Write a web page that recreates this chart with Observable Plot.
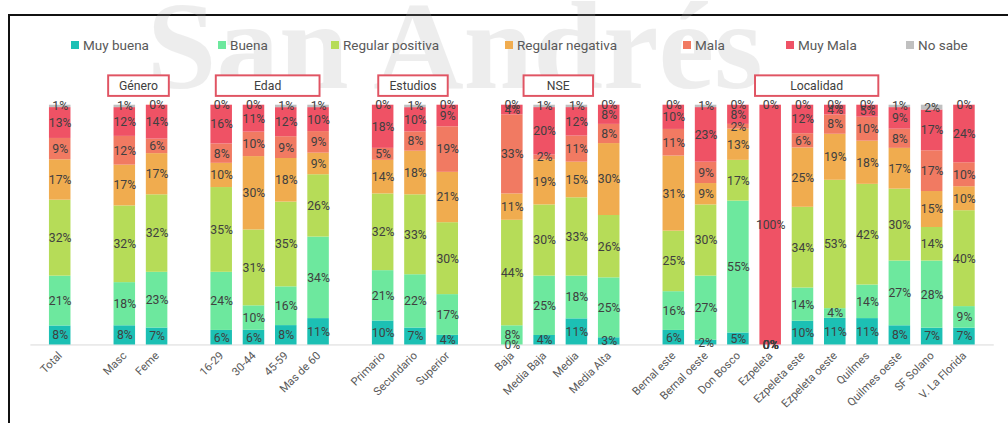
<!DOCTYPE html>
<html><head><meta charset="utf-8">
<script src="https://cdn.jsdelivr.net/npm/d3@7"></script>
<script src="https://cdn.jsdelivr.net/npm/@observablehq/plot@0.6"></script>
<style>
html,body{margin:0;padding:0;background:#fff;overflow:hidden;width:1008px;height:423px;}
#wrap{position:relative;width:1008px;height:423px;overflow:hidden;font-family:Roboto,"Open Sans",sans-serif;}
#frame{position:absolute;left:8px;top:14px;width:1010px;height:420px;border-top:2px solid #111;border-left:2px solid #111;box-sizing:border-box;}
.leg{position:absolute;top:36px;height:18px;font-size:13.5px;color:#595959;white-space:nowrap;display:flex;align-items:center;}
.leg i{display:inline-block;width:8px;height:8px;margin-right:4px;}
#chart{position:absolute;left:0;top:0;}
</style></head>
<body><div id="wrap"><div id="frame"></div><div id="chart"></div></div>
<script>
// ---- data ----
const categories = ["Total","Masc","Feme","16-29","30-44","45-59","Mas de 60","Primario","Secundario","Superior","Baja","Media Baja","Media","Media Alta","Bernal este","Bernal oeste","Don Bosco","Ezpeleta","Ezpeleta este","Ezpeleta oeste","Quilmes","Quilmes oeste","SF Solano","V. La Florida"];
const series = ["Muy buena","Buena","Regular positiva","Regular negativa","Mala","Muy Mala","No sabe"];
const muyBuena = [8,8,7,6,6,8,11,10,7,4,0,4,11,3,6,2,5,0,10,11,11,8,7,7];
const buena    = [21,18,23,24,10,16,34,21,22,17,8,25,18,25,16,27,55,0,14,4,14,27,28,9];
const regPos   = [32,32,32,35,31,35,26,32,33,30,44,30,33,26,25,30,17,0,34,53,42,30,14,40];
const regNeg   = [17,17,17,10,30,18,9,14,18,21,11,19,15,30,31,9,13,0,25,19,18,17,15,10];
const mala     = [9,12,6,8,10,9,9,5,8,19,33,2,11,8,11,9,2,0,6,8,10,8,17,10];
const muyMala  = [13,12,14,16,11,12,10,18,10,9,4,20,12,8,10,23,8,100,12,4,5,9,17,24];
const noSabe   = [1,1,0,0,0,1,1,0,1,0,0,1,1,0,0,1,0,0,0,0,0,1,2,0];
const groupLabels = [null,"Género","Edad","Estudios","NSE","Localidad"];
const groupMembers = [["Total"],["Masc","Feme"],["16-29","30-44","45-59","Mas de 60"],["Primario","Secundario","Superior"],["Baja","Media Baja","Media","Media Alta"],["Bernal este","Bernal oeste","Don Bosco","Ezpeleta","Ezpeleta este","Ezpeleta oeste","Quilmes","Quilmes oeste","SF Solano","V. La Florida"]];

// ---- styling ----
const colors = ["#1cc0b4","#6de89e","#b6dc58","#f0ac4f","#f17a62","#ef5265","#c0c0c0"];
const legendLeft = [71,218,331,505,683,786,906];
const boxWidths = [0,62,106,71,71,126];
const font = 'Roboto,"Open Sans",sans-serif';

const values = [muyBuena,buena,regPos,regNeg,mala,muyMala,noSabe];
const rows = categories.flatMap((c,i)=>series.map((s,j)=>({cat:c, serie:s, value:values[j][i]})));
const domain = [];
groupMembers.forEach((g,i)=>{ if(i>0) domain.push("gap"+i); domain.push(...g); });

// legend
const wrap = document.getElementById("wrap");
series.forEach((s,i)=>{
  const d = document.createElement("div");
  d.className="leg"; d.style.left=legendLeft[i]+"px";
  d.innerHTML = `<i style="background:${colors[i]}"></i>${s}`;
  wrap.appendChild(d);
});

const stackOpts = {x:"cat", y:"value", z:"serie", order:series, offset:"normalize"};
const plot = Plot.plot({
  width:1030, height:423,
  marginTop:107, marginBottom:71, marginLeft:31, marginRight:14.5,
  style:{fontFamily:font, background:"transparent", overflow:"visible"},
  x:{domain, paddingInner:0.32, paddingOuter:0.16, label:null},
  y:{domain:[0,1], axis:null},
  color:{domain:series, range:colors},
  marks:[
    Plot.ruleY([0],{stroke:"#d9d9d9", strokeWidth:1}),
    Plot.barY(rows, Plot.stackY({...stackOpts, fill:"serie"})),
    Plot.text(rows, Plot.stackY({...stackOpts, text:d=>d.value+"%", fill:"#404040", fontSize:12.5})),
    Plot.axisX({ticks:categories, tickRotate:-45, tickSize:0, tickPadding:9, fontSize:11.5, fill:"#595959", label:null})
  ]
});
document.getElementById("chart").appendChild(plot);

const svg = d3.select(plot);
// watermark
svg.insert("text", ":first-child").attr("x",150).attr("y",90).attr("text-anchor","start")
  .attr("font-family","Liberation Serif, DejaVu Serif, serif").attr("font-size",128).attr("font-weight","bold")
  .attr("fill","#aaa").attr("opacity",0.2).style("pointer-events","none")
  .text("San Andrés");
// group boxes
const xs = plot.scale("x");
groupLabels.forEach((lab,i)=>{
  if(!lab) return;
  const pos = groupMembers[i].map(m=>xs.apply(m)+xs.bandwidth/2);
  const c = (d3.min(pos)+d3.max(pos))/2 - 2;
  const w = boxWidths[i];
  svg.append("rect").attr("x",c-w/2).attr("y",77).attr("width",w).attr("height",21)
    .attr("fill","#fff").attr("stroke","#e05463").attr("stroke-width",2);
  svg.append("text").attr("x",c).attr("y",88).attr("text-anchor","middle").attr("dy","0.35em")
    .attr("font-size",12.5).attr("fill","#404040").attr("font-family",font).text(lab);
});
</script></body></html>
